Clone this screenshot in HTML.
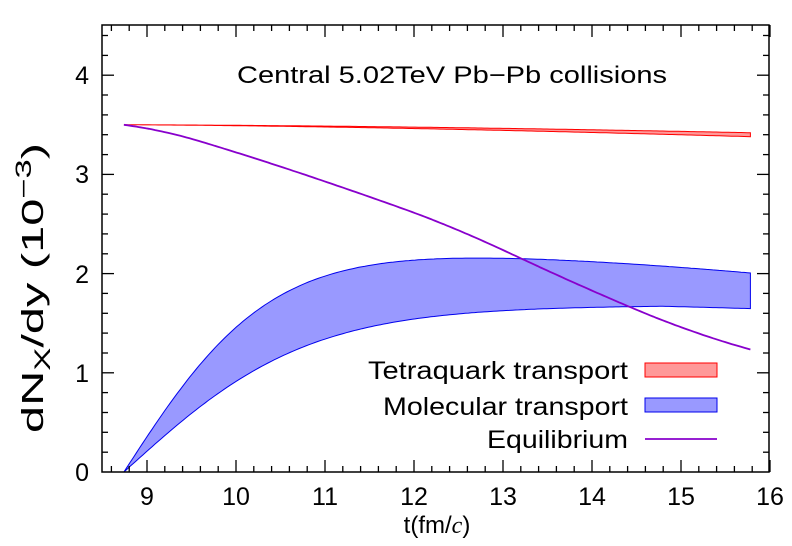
<!DOCTYPE html>
<html><head><meta charset="utf-8"><style>
html,body{margin:0;padding:0;background:#fff;}
svg{display:block;font-family:"Liberation Sans",sans-serif;}
</style></head><body>
<svg id="s" width="792" height="546" viewBox="0 0 792 546" xmlns="http://www.w3.org/2000/svg">
<path id="blue" fill="#9999ff" stroke="#0000ee" stroke-width="1"/>
<path id="red" fill="#ff9999" stroke="#ff0000" stroke-width="1"/>
<path id="purp" fill="none" stroke="#8800cc" stroke-width="1.8"/>
<g id="ticks" stroke="#000" stroke-width="1.3"></g>
<rect x="102" y="25" width="667" height="447" fill="none" stroke="#000" stroke-width="1.5"/>
<g font-size="25" fill="#000" text-anchor="middle">
<text x="147" y="505">9</text><text x="236" y="505">10</text><text x="325" y="505">11</text>
<text x="414" y="505">12</text><text x="503" y="505">13</text><text x="592" y="505">14</text>
<text x="681" y="505">15</text><text x="770" y="505">16</text>
</g>
<g font-size="25" fill="#000" text-anchor="end">
<text x="89" y="481">0</text><text x="89" y="382">1</text><text x="89" y="283">2</text>
<text x="89" y="183">3</text><text x="89" y="84">4</text>
</g>
<text x="237" y="83" font-size="24" textLength="430" lengthAdjust="spacingAndGlyphs">Central 5.02TeV Pb−Pb collisions</text>
<text x="437" y="533" font-size="24" text-anchor="middle">t(fm/<tspan font-family="Liberation Serif,serif" font-style="italic">c</tspan>)</text>
<text transform="translate(43,433) rotate(-90)" font-size="31" textLength="290" lengthAdjust="spacingAndGlyphs">dN<tspan font-size="22" dy="7">X</tspan><tspan dy="-7">/dy (10</tspan><tspan font-size="22" dy="-12">−3</tspan><tspan dy="12">)</tspan></text>
<g font-size="25">
<text x="368" y="379" textLength="260" lengthAdjust="spacingAndGlyphs">Tetraquark transport</text>
<text x="383" y="415" textLength="245" lengthAdjust="spacingAndGlyphs">Molecular transport</text>
<text x="487" y="448" textLength="141" lengthAdjust="spacingAndGlyphs">Equilibrium</text>
</g>
<rect x="645" y="363" width="72" height="14" fill="#ff9999" stroke="#ff0000" stroke-width="1"/>
<rect x="645" y="398" width="72" height="14" fill="#9999ff" stroke="#0000ee" stroke-width="1"/>
<line x1="645" y1="439" x2="717" y2="439" stroke="#8800cc" stroke-width="1.8"/>
</svg>
<script>
var X=function(t){return 102.5+(t-8.5)*89;},Y=function(v){return 472-v*99.2;};
var t0=8.74,t1=15.78,N=200;
function samp(f){var o=[];for(var i=0;i<=N;i++){var t=t0+(t1-t0)*i/N;o.push([t,f(t)]);}return o;}
function P(a){return a.map(function(q){return X(q[0]).toFixed(1)+","+Y(q[1]).toFixed(1);});}
function tanh(x){var e=Math.exp(2*x);return (e-1)/(e+1);}
var lo=samp(function(t){var u=t-t0;return 1.68*tanh(u/2.07)-0.03*Math.max(0,t-14.8);});
var up=samp(function(t){var u=t-t0;return 2.28*tanh(u/1.65)-0.0055*u*u;});
var ru=samp(function(t){return 3.5-0.08*Math.pow((t-t0)/7.04,1.6);});
var rl=samp(function(t){return 3.5-0.12*Math.pow((t-t0)/7.04,1.5);});
var kn=[[8.74,-0.12],[9.6,-0.27],[10.72,-0.3],[11.85,-0.32],[12.75,-0.40],[13.17,-0.42],[14.46,-0.38],[15.78,-0.25]];
function sl(t){for(var i=0;i<kn.length-1;i++){if(t<=kn[i+1][0]){var f=(t-kn[i][0])/(kn[i+1][0]-kn[i][0]);return kn[i][1]+f*(kn[i+1][1]-kn[i][1]);}}return kn[kn.length-1][1];}
var pu=[],v=3.5,dt=(t1-t0)/N;for(var i=0;i<=N;i++){var t=t0+dt*i;pu.push([t,v]);v+=sl(t+dt/2)*dt;}
document.getElementById('blue').setAttribute('d','M'+P(up).join('L')+'L'+P(lo).reverse().join('L')+'Z');
document.getElementById('red').setAttribute('d','M'+P(ru).join('L')+'L'+P(rl).reverse().join('L')+'Z');
document.getElementById('purp').setAttribute('d','M'+P(pu).join('L'));
var g=document.getElementById('ticks'),h='';
for(var i=0;i<=37;i++){var t=8.6+i*0.2,x=X(t).toFixed(1),L=(Math.abs(t-Math.round(t))<0.01)?12:6;
h+='<line x1="'+x+'" y1="472" x2="'+x+'" y2="'+(472-L)+'"/><line x1="'+x+'" y1="25" x2="'+x+'" y2="'+(25+L)+'"/>';}
for(var j=1;j<=22;j++){var y=Y(j*0.2).toFixed(1),L2=(j%5==0)?12:6;
h+='<line x1="102" y1="'+y+'" x2="'+(102+L2)+'" y2="'+y+'"/><line x1="769" y1="'+y+'" x2="'+(769-L2)+'" y2="'+y+'"/>';}
g.innerHTML=h;
</script>
</body></html>
